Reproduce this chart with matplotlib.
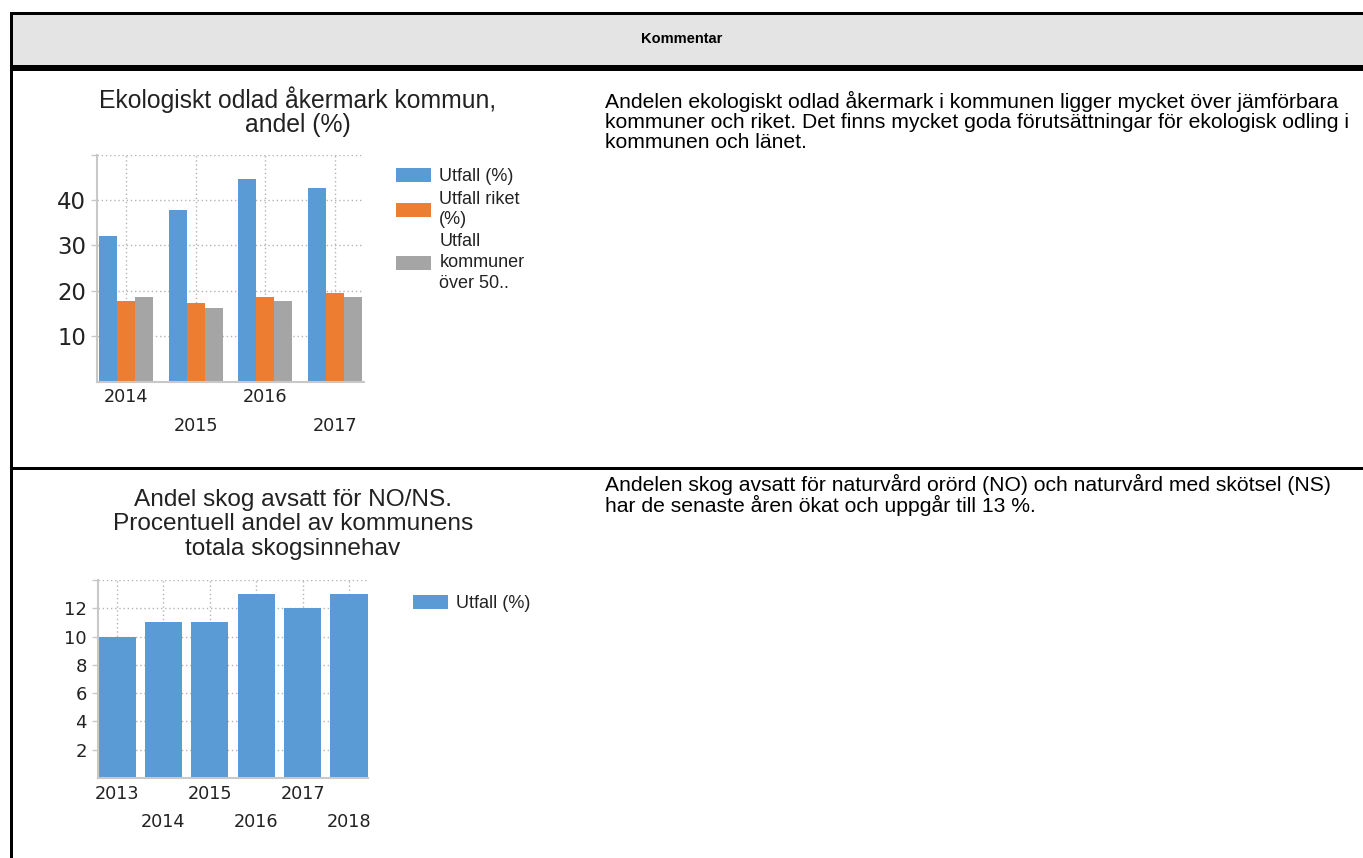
import matplotlib
matplotlib.use("Agg")
import matplotlib.pyplot as plt
import numpy as np
from matplotlib.patches import Rectangle

W, H = 1363, 858
DPI = 100

# data
years_1 = ["2014", "2015", "2016", "2017"]
utfall_1 = [32.0, 37.8, 44.5, 42.6]
riket_1 = [17.7, 17.3, 18.7, 19.6]
kommuner_1 = [18.7, 16.1, 17.8, 18.7]

years_2 = ["2013", "2014", "2015", "2016", "2017", "2018"]
utfall_2 = [10, 11, 11, 13, 12, 13]

title_1 = ["Ekologiskt odlad åkermark kommun,", "andel (%)"]
title_2 = ["Andel skog avsatt för NO/NS.", "Procentuell andel av kommunens",
           "totala skogsinnehav"]

comment_1 = ["Andelen ekologiskt odlad åkermark i kommunen ligger mycket över jämförbara",
             "kommuner och riket. Det finns mycket goda förutsättningar för ekologisk odling i",
             "kommunen och länet."]
comment_2 = ["Andelen skog avsatt för naturvård orörd (NO) och naturvård med skötsel (NS)",
             "har de senaste åren ökat och uppgår till 13 %."]

BLUE, ORANGE, GREY = "#5b9bd5", "#ed7d31", "#a5a5a5"
TXT = "Liberation Sans"
TICK = "DejaVu Sans"

fig = plt.figure(figsize=(W / DPI, H / DPI), dpi=DPI)

# table frame drawn in pixel coordinates
bg = fig.add_axes([0, 0, 1, 1])
bg.set_xlim(0, W)
bg.set_ylim(H, 0)
bg.axis("off")
bg.add_patch(Rectangle((12, 14), W - 12, 51, facecolor="#e4e4e4", edgecolor="none"))
bg.add_patch(Rectangle((10, 12), W - 10, 2.5, facecolor="black", edgecolor="none"))
bg.add_patch(Rectangle((10, 12), 2.5, H - 12, facecolor="black", edgecolor="none"))
bg.add_patch(Rectangle((10, 65), W - 10, 6, facecolor="black", edgecolor="none"))
bg.add_patch(Rectangle((10, 467), W - 10, 3, facecolor="black", edgecolor="none"))
bg.text(682, 39, "Kommentar", ha="center", va="center", fontsize=10.5,
        fontweight="bold", family=TXT)


def px_axes(x0, x1, y0, y1):
    return fig.add_axes([x0 / W, 1 - y1 / H, (x1 - x0) / W, (y1 - y0) / H])


def style(ax, ymax, ystep, ysize, labels):
    for s in ("top", "right"):
        ax.spines[s].set_visible(False)
    for s in ("left", "bottom"):
        ax.spines[s].set_color("#c8c8c8")
        ax.spines[s].set_linewidth(1.5)
    yt = np.arange(ystep, ymax + 0.01, ystep)
    ax.set_yticks(yt)
    ax.set_yticklabels([f"{v:g}" for v in yt[:-1]] + [""])
    ax.set_ylim(0, ymax)
    ax.tick_params(axis="y", length=4.3, width=1, color="#c8c8c8", pad=3.6,
                   labelsize=ysize, labelcolor="#222222")
    for t in ax.get_yticklabels():
        t.set_family(TICK)
    n = len(labels)
    ax.set_xticks(np.arange(0, n, 2))
    ax.set_xticklabels(labels[0::2])
    ax.set_xticks(np.arange(1, n, 2), minor=True)
    ax.set_xticklabels(labels[1::2], minor=True)
    ax.tick_params(axis="x", which="major", length=0, pad=5, labelsize=12.7)
    ax.tick_params(axis="x", which="minor", length=0, pad=25.5, labelsize=12.7)
    for t in ax.get_xticklabels(which="both"):
        t.set_family(TICK)
        t.set_color("#222222")
    ax.grid(True, axis="both", which="major", color="#b4b4b4", linestyle=(0, (1, 2)),
            linewidth=1)
    ax.grid(True, axis="x", which="minor", color="#b4b4b4", linestyle=(0, (1, 2)),
            linewidth=1)
    ax.set_axisbelow(True)


# chart 1: grouped bars
ax1 = px_axes(97, 364, 154.5, 381.5)
x1 = np.arange(len(years_1))
bw = 0.26
b1 = ax1.bar(x1 - bw, utfall_1, bw, color=BLUE, label="Utfall (%)")
b2 = ax1.bar(x1, riket_1, bw, color=ORANGE, label="Utfall riket\n(%)")
b3 = ax1.bar(x1 + bw, kommuner_1, bw, color=GREY, label="Utfall\nkommuner\növer 50..")
ax1.set_xlim(-0.42, len(years_1) - 1 + 0.42)
style(ax1, 50, 10, 16.4, years_1)
leg1 = ax1.legend(handles=[b1, b2, b3], loc="upper left",
                  bbox_to_anchor=(396 / W, 1 - 168 / H), bbox_transform=fig.transFigure,
                  frameon=False, prop={"family": TXT, "size": 13},
                  handlelength=1.95, handleheight=0.85, handletextpad=0.45,
                  labelspacing=0.28, borderpad=0, borderaxespad=0)
for t in leg1.get_texts():
    t.set_color("#222222")
    t.set_linespacing(1.3)

# chart 2: single series
ax2 = px_axes(98, 368, 580, 778)
x2 = np.arange(len(years_2))
b4 = ax2.bar(x2, utfall_2, 0.8, color=BLUE, label="Utfall (%)")
ax2.set_xlim(-0.41, len(years_2) - 1 + 0.41)
style(ax2, 14, 2, 13, years_2)
leg2 = ax2.legend(handles=[b4], loc="upper left",
                  bbox_to_anchor=(413 / W, 1 - 595 / H), bbox_transform=fig.transFigure,
                  frameon=False, prop={"family": TXT, "size": 13},
                  handlelength=1.95, handleheight=0.85, handletextpad=0.45,
                  borderpad=0, borderaxespad=0)
for t in leg2.get_texts():
    t.set_color("#222222")

# chart titles
for i, line in enumerate(title_1):
    bg.text(298, 100 + 25 * i, line, ha="center", va="center", fontsize=17.8,
            family=TXT, color="#222222")
for i, line in enumerate(title_2):
    bg.text(293, 500 + 24.5 * i, line, ha="center", va="center", fontsize=17.6,
            family=TXT, color="#222222")

# comment column
for i, line in enumerate(comment_1):
    bg.text(605, 101 + 21 * i, line, ha="left", va="center", fontsize=15.2,
            family=TXT, color="black")
for i, line in enumerate(comment_2):
    bg.text(605, 484 + 21 * i, line, ha="left", va="center", fontsize=15.2,
            family=TXT, color="black")

fig.savefig("out.png", dpi=DPI)
